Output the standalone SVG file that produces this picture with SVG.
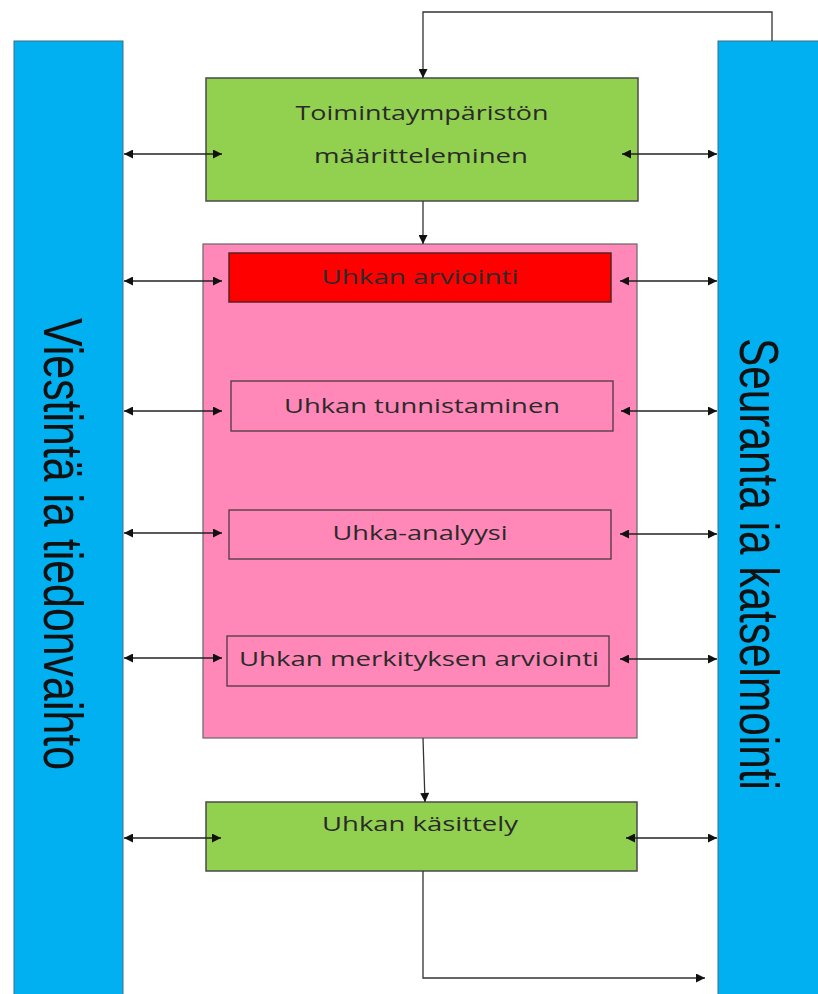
<svg xmlns="http://www.w3.org/2000/svg" width="818" height="994" viewBox="0 0 818 994">
<defs>
<marker id="ah" viewBox="0 0 10 10" refX="10" refY="5" markerWidth="10" markerHeight="9" markerUnits="userSpaceOnUse" orient="auto-start-reverse">
<path d="M0,0 L10,5 L0,10 Z" fill="#111"/>
</marker>
<style>
.bar{fill:#00B0F0;stroke:#3a6f86;stroke-width:1}
.green{fill:#92D050;stroke:#4a4a4a;stroke-width:1.5}
.pink{fill:#FF88B8;stroke:#666;stroke-width:1.2}
.red{fill:#FF0000;stroke:#5a2020;stroke-width:1.5}
.sub{fill:none;stroke:#4a3a40;stroke-width:1.3}
.lbl{font-family:"Open Sans","Noto Sans",sans-serif;font-size:20px;fill:#2a2a2a;text-anchor:middle;dominant-baseline:central}
.vlbl{font-family:"Liberation Sans Narrow","Liberation Sans",Arial,sans-serif;font-size:42px;fill:#111;text-anchor:middle;dominant-baseline:central}
.dbl{fill:none;stroke:#222;stroke-width:1.3;marker-start:url(#ah);marker-end:url(#ah)}
.one{fill:none;stroke:#333;stroke-width:1.3;marker-end:url(#ah)}
</style>
</defs>
<rect width="818" height="994" fill="#ffffff"/>

<g id="viestinta">
<rect class="bar" x="14" y="41" width="109" height="970"/>
<text class="vlbl" transform="translate(63,544) scale(1.3,1) rotate(90)" textLength="452" lengthAdjust="spacingAndGlyphs">Viestintä ia tiedonvaihto</text>
</g>

<g id="seuranta">
<rect class="bar" x="718" y="41" width="110" height="970"/>
<text class="vlbl" transform="translate(759,564) scale(1.3,1) rotate(90)" textLength="452" lengthAdjust="spacingAndGlyphs">Seuranta ia katselmointi</text>
</g>

<g id="toimintaymparisto">
<rect class="green" x="206" y="78" width="432" height="123"/>
<text class="lbl" x="422" y="112" textLength="253" lengthAdjust="spacingAndGlyphs">Toimintaympäristön</text>
<text class="lbl" x="421" y="155" textLength="214" lengthAdjust="spacingAndGlyphs">määritteleminen</text>
</g>

<g id="arviointi-kehys">
<rect class="pink" x="203" y="244" width="434" height="494"/>
</g>

<g id="uhkan-arviointi">
<rect class="red" x="229" y="253" width="382" height="49"/>
<text class="lbl" x="420" y="276" textLength="197" lengthAdjust="spacingAndGlyphs">Uhkan arviointi</text>
</g>

<g id="uhkan-tunnistaminen">
<rect class="sub" x="231" y="381" width="382" height="50"/>
<text class="lbl" x="422" y="405" textLength="276" lengthAdjust="spacingAndGlyphs">Uhkan tunnistaminen</text>
</g>

<g id="uhka-analyysi">
<rect class="sub" x="229" y="510" width="382" height="49"/>
<text class="lbl" x="420" y="532" textLength="175" lengthAdjust="spacingAndGlyphs">Uhka-analyysi</text>
</g>

<g id="uhkan-merkitys">
<rect class="sub" x="227" y="636" width="382" height="50"/>
<text class="lbl" x="419" y="658" textLength="360" lengthAdjust="spacingAndGlyphs">Uhkan merkityksen arviointi</text>
</g>

<g id="uhkan-kasittely">
<rect class="green" x="206" y="802" width="431" height="69"/>
<text class="lbl" x="420" y="823" textLength="196" lengthAdjust="spacingAndGlyphs">Uhkan käsittely</text>
</g>

<g id="connectors">
<path class="one" d="M772,41 V12 H423 V78"/>
<path class="one" d="M423,201 V244"/>
<path class="one" d="M423,738 L425,802"/>
<path class="one" d="M423,871 V978 H705"/>

<path class="dbl" d="M124,154 H222"/>
<path class="dbl" d="M622,154 H717"/>
<path class="dbl" d="M124,281 H222"/>
<path class="dbl" d="M620,281 H717"/>
<path class="dbl" d="M124,411 H222"/>
<path class="dbl" d="M621,411 H717"/>
<path class="dbl" d="M124,533 H222"/>
<path class="dbl" d="M620,534 H717"/>
<path class="dbl" d="M124,658 H222"/>
<path class="dbl" d="M620,659 H717"/>
<path class="dbl" d="M124,838 H221"/>
<path class="dbl" d="M626,838 H717"/>
</g>
</svg>
